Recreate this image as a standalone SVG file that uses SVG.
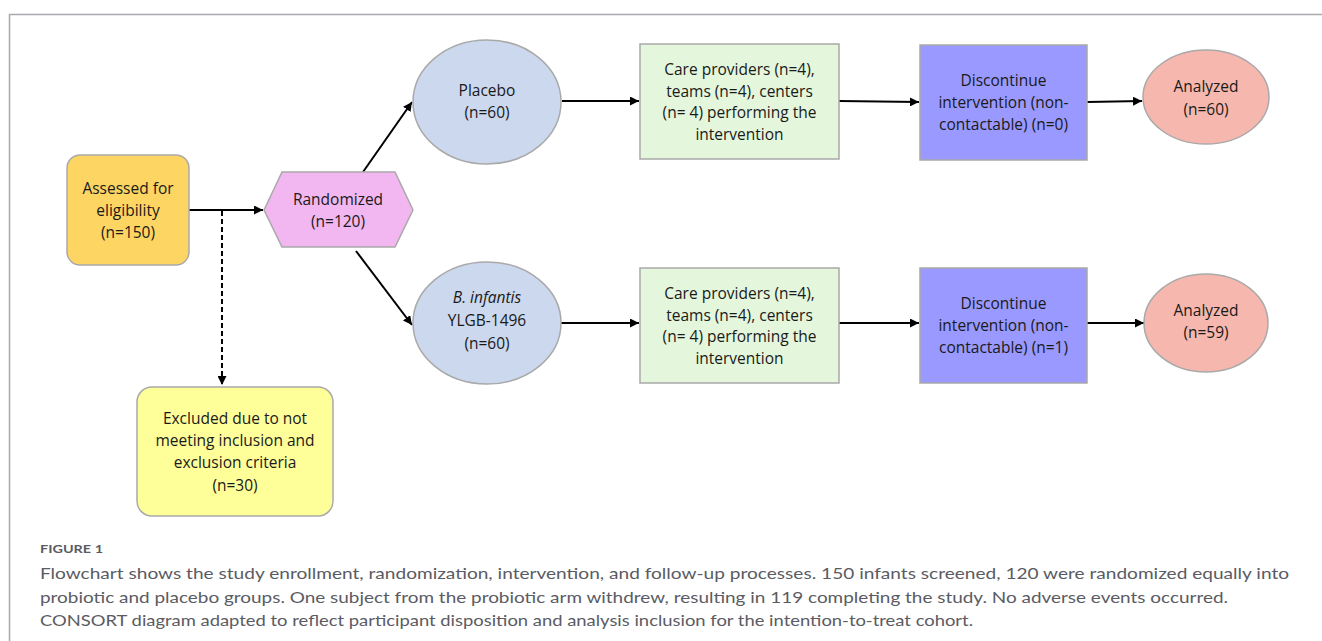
<svg xmlns="http://www.w3.org/2000/svg" width="1322" height="641" viewBox="0 0 1322 641">
<style>
.n{stroke:#a9a9a9;stroke-width:1.5}
.t{font-family:"Open Sans","Noto Sans",sans-serif;font-size:15.5px;fill:#1a1a1a;text-anchor:middle}
.c{stroke:#000;stroke-width:2;fill:none}
.cap{font-family:Lato,"Open Sans",sans-serif;fill:#5a5b63}
</style>
<defs>
<marker id="ah" viewBox="0 0 10 10" refX="10" refY="5" markerWidth="4.5" markerHeight="4.5" orient="auto" markerUnits="strokeWidth">
<path d="M0,0 L10,5 L0,10 z" fill="#000"/>
</marker>
</defs>
<rect width="1322" height="641" fill="#fff"/>
<path d="M9.5,641 V14.5 H1322" fill="none" stroke="#a9a9ae" stroke-width="1.5"/>
<g id="connectors">
<line class="c" x1="189" y1="210" x2="263" y2="210" marker-end="url(#ah)"/>
<line class="c" x1="222" y1="211" x2="222" y2="385" stroke-dasharray="5,3" stroke-width="1.8" marker-end="url(#ah)"/>
<line class="c" x1="363" y1="172" x2="412" y2="102" marker-end="url(#ah)"/>
<line class="c" x1="356" y1="251" x2="412" y2="325" marker-end="url(#ah)"/>
<line class="c" x1="562" y1="101" x2="639" y2="101" marker-end="url(#ah)"/>
<line class="c" x1="839" y1="101" x2="919" y2="102" marker-end="url(#ah)"/>
<line class="c" x1="1087" y1="102" x2="1142" y2="101" marker-end="url(#ah)"/>
<line class="c" x1="561" y1="323" x2="639" y2="323" marker-end="url(#ah)"/>
<line class="c" x1="839" y1="323" x2="919" y2="323" marker-end="url(#ah)"/>
<line class="c" x1="1087" y1="323" x2="1144" y2="323" marker-end="url(#ah)"/>
</g>
<g id="assessed">
<rect class="n" x="67" y="155" width="122" height="110" rx="13" fill="#fdd563"/>
<text class="t" x="128" y="194">Assessed for</text>
<text class="t" x="128" y="216">eligibility</text>
<text class="t" x="128" y="238">(n=150)</text>
</g>
<g id="randomized">
<polygon class="n" points="264,210 282,172 395,172 413,210 395,247 282,247" fill="#f2b6f0"/>
<text class="t" x="338" y="205">Randomized</text>
<text class="t" x="338" y="227">(n=120)</text>
</g>
<g id="excluded">
<rect class="n" x="137" y="387" width="196" height="129" rx="15" fill="#ffff99"/>
<text class="t" x="235" y="424">Excluded due to not</text>
<text class="t" x="235" y="446">meeting inclusion and</text>
<text class="t" x="235" y="468">exclusion criteria</text>
<text class="t" x="235" y="491">(n=30)</text>
</g>
<g id="placebo">
<ellipse class="n" cx="487" cy="102" rx="74" ry="62" fill="#cbd8ee"/>
<text class="t" x="487" y="96">Placebo</text>
<text class="t" x="487" y="118">(n=60)</text>
</g>
<g id="binfantis">
<ellipse class="n" cx="487" cy="323" rx="74" ry="61" fill="#cbd8ee"/>
<text class="t" x="487" y="303" font-style="italic">B. infantis</text>
<text class="t" x="487" y="326">YLGB-1496</text>
<text class="t" x="487" y="349">(n=60)</text>
</g>
<g id="care1">
<rect class="n" x="640" y="44" width="199" height="115" fill="#e4f6dc"/>
<text class="t" x="739.5" y="75">Care providers (n=4),</text>
<text class="t" x="739.5" y="97">teams (n=4), centers</text>
<text class="t" x="739.5" y="118">(n= 4) performing the</text>
<text class="t" x="739.5" y="140">intervention</text>
</g>
<g id="care2">
<rect class="n" x="640" y="268" width="199" height="115" fill="#e4f6dc"/>
<text class="t" x="739.5" y="299">Care providers (n=4),</text>
<text class="t" x="739.5" y="321">teams (n=4), centers</text>
<text class="t" x="739.5" y="342">(n= 4) performing the</text>
<text class="t" x="739.5" y="364">intervention</text>
</g>
<g id="disc1">
<rect class="n" x="920" y="45" width="167" height="115" fill="#9999ff"/>
<text class="t" x="1003.5" y="86">Discontinue</text>
<text class="t" x="1003.5" y="108">intervention (non-</text>
<text class="t" x="1003.5" y="130">contactable) (n=0)</text>
</g>
<g id="disc2">
<rect class="n" x="920" y="268" width="167" height="115" fill="#9999ff"/>
<text class="t" x="1003.5" y="309">Discontinue</text>
<text class="t" x="1003.5" y="331">intervention (non-</text>
<text class="t" x="1003.5" y="353">contactable) (n=1)</text>
</g>
<g id="analyzed1">
<ellipse class="n" cx="1206" cy="97" rx="63" ry="47" fill="#f6b8ae"/>
<text class="t" x="1206" y="92">Analyzed</text>
<text class="t" x="1206" y="115">(n=60)</text>
</g>
<g id="analyzed2">
<ellipse class="n" cx="1206" cy="323" rx="62" ry="49" fill="#f6b8ae"/>
<text class="t" x="1206" y="316">Analyzed</text>
<text class="t" x="1206" y="338">(n=59)</text>
</g>
<g id="caption">
<text class="cap" x="40" y="553" font-size="11.5" font-weight="bold" textLength="63" lengthAdjust="spacingAndGlyphs">FIGURE 1</text>
<text class="cap" x="40" y="579" font-size="16" textLength="1249" lengthAdjust="spacingAndGlyphs">Flowchart shows the study enrollment, randomization, intervention, and follow-up processes. 150 infants screened, 120 were randomized equally into</text>
<text class="cap" x="40" y="603" font-size="16" textLength="1188" lengthAdjust="spacingAndGlyphs">probiotic and placebo groups. One subject from the probiotic arm withdrew, resulting in 119 completing the study. No adverse events occurred.</text>
<text class="cap" x="40" y="626" font-size="16" textLength="933" lengthAdjust="spacingAndGlyphs">CONSORT diagram adapted to reflect participant disposition and analysis inclusion for the intention-to-treat cohort.</text>
</g>
</svg>
